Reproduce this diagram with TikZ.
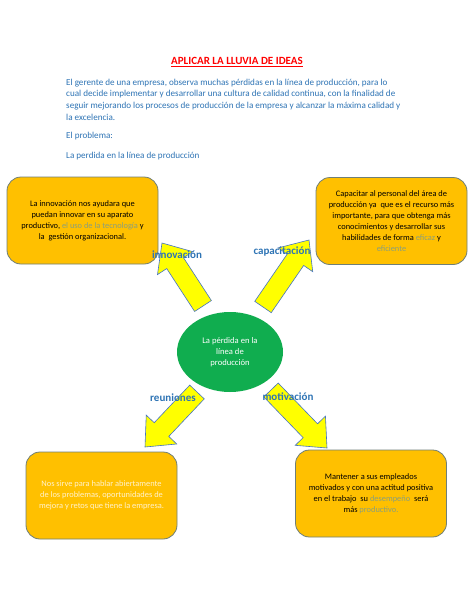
\documentclass[tikz,border=0pt]{standalone}
\usepackage{fontspec}
\setmainfont{Carlito}
\usepackage{xcolor}
\usepackage{tikz}
\usetikzlibrary{shapes.geometric, positioning, calc}
\definecolor{word-blue}{HTML}{2E74B5}
\definecolor{word-red}{HTML}{FF0000}
\definecolor{box-orange}{HTML}{FFC000}
\definecolor{box-edge}{HTML}{6F7F78}
\definecolor{arrow-yellow}{HTML}{FFFF00}
\definecolor{arrow-edge}{HTML}{4472C4}
\definecolor{idea-green}{HTML}{10AD4F}
\definecolor{soft-green}{HTML}{8A9F7C}
\definecolor{cream}{HTML}{FFF2CC}

% block arrow from tail #1 to tip #2, head base kept as #3
\newcommand{\blockarrow}[3]{%
  \coordinate (#3) at ($(#2)!24pt!(#1)$);
  \draw[bigarrow] ($(#1)!10pt!90:(#2)$) -- ($(#3)!10pt!90:(#2)$) -- ($(#3)!21pt!90:(#2)$) -- (#2)
    -- ($(#3)!21pt!270:(#2)$) -- ($(#3)!10pt!270:(#2)$) -- ($(#1)!10pt!270:(#2)$) -- cycle;
}

\begin{document}
\begin{tikzpicture}[
    x=1pt, y=-1pt,
    title/.style={font=\fontsize{11}{13}\selectfont\bfseries, text=word-red, inner sep=0pt},
    para/.style={font=\fontsize{9.1}{11.7}\selectfont, text=word-blue, align=left, inner sep=0pt},
    ideabox/.style={rectangle, draw=box-edge, line width=0.8pt, fill=box-orange, rounded corners=14pt, minimum width=151pt, minimum height=87pt, align=center, font=\fontsize{8.4}{11}\selectfont, inner sep=0pt},
    problem/.style={ellipse, fill=idea-green, minimum width=106pt, minimum height=80pt, align=center, text=white, font=\fontsize{8.6}{10.8}\selectfont, inner sep=0pt},
    bigarrow/.style={fill=arrow-yellow, draw=arrow-edge, line width=0.6pt, line join=miter},
    tag/.style={font=\fontsize{11}{13}\selectfont\bfseries, text=word-blue, inner sep=0pt}
]
\fill[white] (0,0) rectangle (474,613);
\useasboundingbox (0,0) rectangle (474,613);

\node[title] (title) at (237,62) {\underline{APLICAR LA LLUVIA DE IDEAS}};
\node[para, anchor=base west] (intro) at (66,120.1) {El gerente de una empresa, observa muchas pérdidas en la línea de producción, para lo\\
cual decide implementar y desarrollar una cultura de calidad continua, con la finalidad de\\
seguir mejorando los procesos de producción de la empresa y alcanzar la máxima calidad y\\
la excelencia.};
\node[para, anchor=base west] (question) at (66,138) {El problema:};
\node[para, anchor=base west] (loss) at (66,158) {La perdida en la línea de producción};

\node[problem] (center) at (230,352) {La pérdida en la\\línea de\\producción};

\node[ideabox] (innobox) at (82.5,220.5) {La innovación nos ayudara que\\puedan innovar en su aparato\\productivo, \textcolor{soft-green}{el uso de la tecnología} y\\la\ \ gestión organizacional.};
\node[ideabox] (capabox) at (391.5,221) {Capacitar al personal del área de\\producción ya\ \ que es el recurso más\\importante, para que obtenga más\\conocimientos y desarrollar sus\\habilidades de forma \textcolor{soft-green}{eficaz} y\\\textcolor{soft-green}{eficiente}};
\node[ideabox, text=cream] (reunbox) at (101.5,495.5) {Nos sirve para hablar abiertamente\\de los problemas, oportunidades de\\mejora y retos que tiene la empresa.};
\node[ideabox] (motibox) at (371,493.5) {Mantener a sus empleados\\motivados y con una actitud positiva\\en el trabajo\ \ su \textcolor{soft-green}{desempeño}\ \ será\\más \textcolor{soft-green}{productivo.}};

\coordinate (innoTail) at (203,306);
\coordinate (innoTip) at (162,243);
\coordinate (capaTail) at (263,307);
\coordinate (capaTip) at (309,240);
\coordinate (reunTail) at (197,392);
\coordinate (reunTip) at (145,447);
\coordinate (motiTail) at (271,390);
\coordinate (motiTip) at (327,448);

\blockarrow{innoTail}{innoTip}{innoHead}
\blockarrow{capaTail}{capaTip}{capaHead}
\blockarrow{reunTail}{reunTip}{reunHead}
\blockarrow{motiTail}{motiTip}{motiHead}

\node[tag] (innotag) at (177,255) {innovación};
\node[tag] (capatag) at (282,252) {capacitación};
\node[tag] (reuntag) at (173,398) {reuniones};
\node[tag] (motitag) at (288,397) {motivación};

\end{tikzpicture}
\end{document}
